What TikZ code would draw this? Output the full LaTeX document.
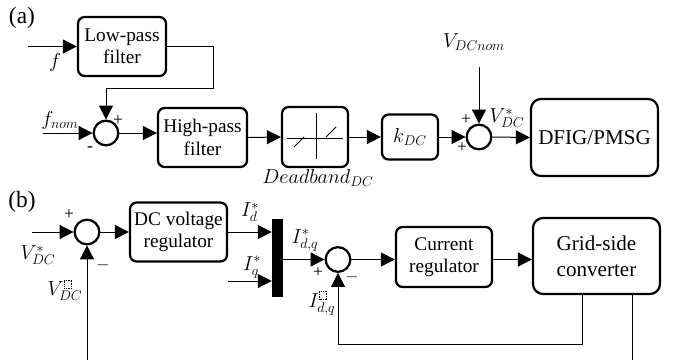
\documentclass[tikz,border=0pt]{standalone}
\usepackage{fontspec}
\setmainfont{Liberation Serif}
\usetikzlibrary{arrows.meta, calc}

% empty dotted square used as a superscript
\newcommand{\nobox}{\tikz[baseline=0pt]\draw[densely dotted, line width=0.45pt] (0,0) rectangle (6.5pt,7pt);}

\begin{document}
\begin{tikzpicture}[
    x=0.3mm, y=-0.3mm,
    % blocks
    blk/.style={draw, line width=1.9pt, rounded corners=2mm, align=center, inner sep=1pt,
        font=\fontsize{16.5}{19}\selectfont},
    bigblk/.style={blk, rounded corners=3mm, font=\fontsize{18}{22}\selectfont},
    sumc/.style={circle, draw, line width=1.9pt, inner sep=0pt, minimum size=7.4mm},
    bar/.style={fill=black, inner sep=0pt, minimum width=3.3mm, minimum height=23.4mm},
    % connectors and labels
    arr/.style={line width=0.85pt, -{Triangle[length=4.2mm,width=4.2mm]}},
    wire/.style={line width=0.85pt},
    lbl/.style={inner sep=0pt, font=\fontsize{18.5}{21}\selectfont},
    sgn/.style={inner sep=0pt, font=\fontsize{15}{17}\selectfont},
    tag/.style={inner sep=0pt, font=\fontsize{20}{24}\selectfont}
]
\useasboundingbox (0,0) rectangle (678,360);

% ===============================
% (a) Frequency to DC voltage reference
% ===============================
\begin{scope}
    % Nodes
    \node[tag] (taga) at (22,18) {(a)};
    \node[blk, minimum width=26.4mm, minimum height=17.7mm] (lpf) at (122,46.5) {Low-pass\\filter};
    \node[sumc] (sum1) at (106,133) {};
    \node[blk, minimum width=26.7mm, minimum height=17.7mm] (hpf) at (202.5,137.5) {High-pass\\filter};
    \node[blk, minimum width=19.8mm, minimum height=18mm] (ddb) at (315,137) {};
    \node[blk, minimum width=16.8mm, minimum height=13.5mm] (kdc) at (410,137) {$k_{DC}$};
    \node[sumc] (sum2) at (479,137) {};
    \node[bigblk, minimum width=38.1mm, minimum height=23.1mm] (gen) at (594.5,137.5) {DFIG/PMSG};

    % Deadband characteristic
    \draw[wire] ($(ddb.center)+(1,-24)$) -- ($(ddb.center)+(1,22)$);
    \draw[wire] ($(ddb.center)+(-28,1)$) -- ($(ddb.center)+(28,1)$);
    \draw[wire] ($(ddb.center)+(-21,10)$) -- ($(ddb.center)+(-11,0)$);
    \draw[wire] ($(ddb.center)+(11,0)$) -- ($(ddb.center)+(21,-10)$);

    % Signal flow
    \coordinate (fin) at (28,46.5);
    \coordinate (fnomin) at (43,133);
    \coordinate (lpfbend) at (213,88);
    \coordinate (vnomtop) at (479,67);
    \draw[arr] (fin) -- (lpf.west);
    \draw[arr] (lpf.east) -| (lpfbend) -| (sum1.north);
    \draw[arr] (fnomin) -- (sum1.west);
    \draw[arr] (sum1.east) -- (sum1.east -| hpf.west);
    \draw[arr] (hpf.east) -- (ddb.west);
    \draw[arr] (ddb.east) -- (kdc.west);
    \draw[arr] (kdc.east) -- (sum2.west);
    \draw[arr] (vnomtop) -- (sum2.north);
    \draw[arr] (sum2.east) -- (gen.west);

    % Labels
    \node[lbl] (lf) at (55,62) {$f$};
    \node[lbl] (lfnom) at (60,120) {$f_{nom}$};
    \node[sgn] (p1) at (118,121) {+};
    \node[sgn] (m1) at (90,149) {-};
    \node[lbl, font=\fontsize{16.5}{19}\selectfont] (lddb) at (318,178) {$Deadband_{DC}$};
    \node[lbl] (lvnom) at (474,42) {$V_{DCnom}$};
    \node[lbl] (lvref) at (507,118) {$V_{DC}^{*}$};
    \node[sgn] (p2) at (466,120) {+};
    \node[sgn] (p3) at (462,148) {+};
\end{scope}

% ===============================
% (b) DC voltage and current loops
% ===============================
\begin{scope}
    % Nodes
    \node[tag] (tagb) at (22,202) {(b)};
    \node[sumc] (sum3) at (87,232) {};
    \node[blk, minimum width=29.1mm, minimum height=17.7mm] (dcvr) at (178.5,232) {DC voltage\\regulator};
    \node[bar] (mux) at (277.5,258) {};
    \node[sumc] (sum4) at (338,259.5) {};
    \node[blk, minimum width=28.8mm, minimum height=18mm] (curr) at (444,257) {Current\\regulator};
    \node[bigblk, minimum width=38.1mm, minimum height=22.8mm] (gsc) at (596.5,256) {Grid-side\\converter};

    % Signal flow
    \coordinate (vin) at (32,232);
    \coordinate (iqin) at (228,281);
    \coordinate (ifb) at (582,344);
    \coordinate (vfbl) at (87,360);
    \coordinate (vfbr) at (632,360);
    \draw[arr] (vin) -- (sum3.west);
    \draw[arr] (sum3.east) -- (dcvr.west);
    \draw[arr] (dcvr.east) -- (dcvr.east -| mux.west);
    \draw[arr] (iqin) -- (iqin -| mux.west);
    \draw[arr] (mux.east |- sum4.west) -- (sum4.west);
    \draw[arr] (sum4.east) -- (sum4.east -| curr.west);
    \draw[arr] (curr.east |- sum4.east) -- (sum4.east -| gsc.west);
    \draw[arr] (gsc.south -| ifb) -- (ifb) -| (sum4.south);
    \draw[arr] (vfbl) -- (sum3.south);
    \draw[wire] (gsc.south -| vfbr) -- (vfbr);

    % Labels
    \node[sgn] (p4) at (69,215) {+};
    \node[lbl] (lvin) at (38,255) {$V_{DC}^{*}$};
    \node[sgn] (m2) at (103,265) {$-$};
    \node[lbl] (lvfb) at (65,290) {$V_{DC}^{\nobox}$};
    \node[lbl] (lid) at (250,212) {$I_{d}^{*}$};
    \node[lbl] (liq) at (252,267) {$I_{q}^{*}$};
    \node[lbl] (lidq) at (305,240) {$I_{d,q}^{*}$};
    \node[sgn] (p5) at (318,273) {+};
    \node[sgn] (m3) at (352,277) {$-$};
    \node[lbl] (lidqfb) at (322,303) {$I_{d,q}^{\nobox}$};
\end{scope}

\end{tikzpicture}
\end{document}
